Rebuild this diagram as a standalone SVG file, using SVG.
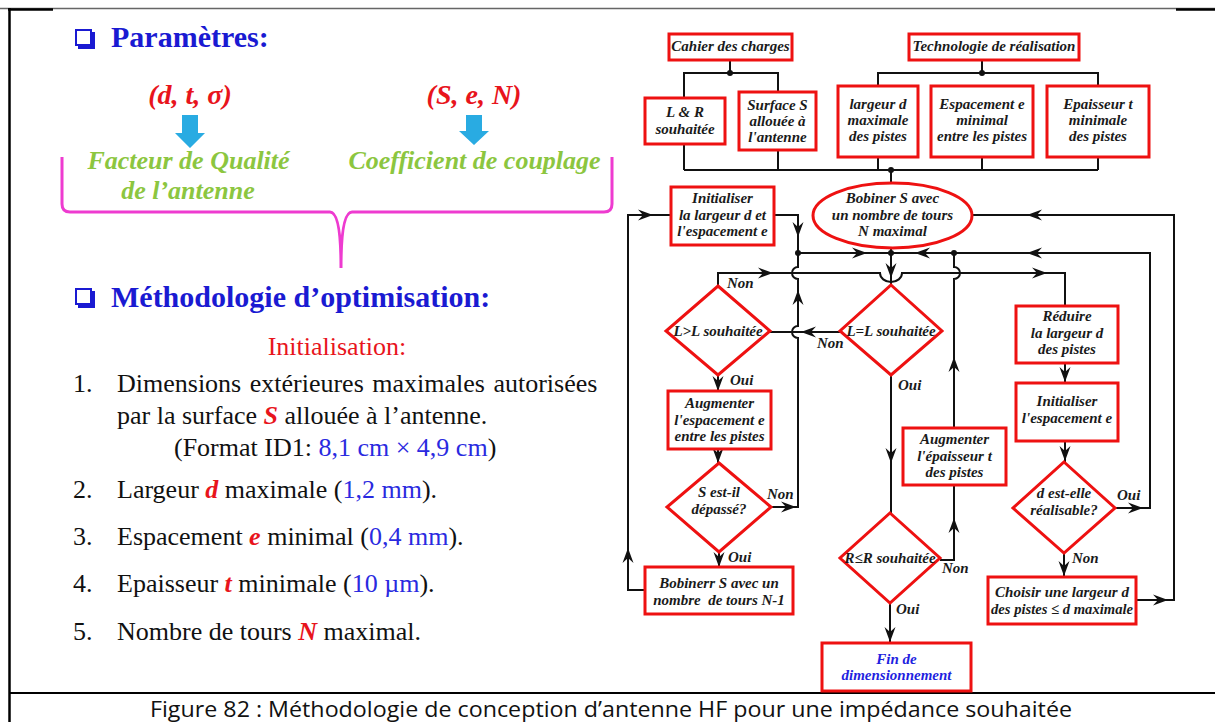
<svg xmlns="http://www.w3.org/2000/svg" width="1215" height="722" viewBox="0 0 1215 722">
<defs>
<style>
.box{fill:#fff;stroke:#ee1111;stroke-width:3}
.t{font-family:"Liberation Serif","Times New Roman",serif;font-weight:bold;font-style:italic;font-size:15px;fill:#1a1a1a;text-anchor:middle}
.lb{font-family:"Liberation Serif","Times New Roman",serif;font-weight:bold;font-style:italic;font-size:15px;fill:#1a1a1a}
.ln{fill:none;stroke:#111;stroke-width:2}
.dot{fill:#111}
.h{font-family:"Liberation Serif","Times New Roman",serif;font-weight:bold;font-size:30px;fill:#1a1ad2}
.p{font-family:"Liberation Serif","Times New Roman",serif;font-size:26px;fill:#111}
.bi{font-weight:bold;font-style:italic;fill:#e8141c}
.bl{fill:#2a2ae0}
.g{font-family:"Liberation Serif","Times New Roman",serif;font-weight:bold;font-style:italic;font-size:26px;fill:#8cc63f;text-anchor:middle}
.r{font-family:"Liberation Serif","Times New Roman",serif;font-weight:bold;font-style:italic;font-size:28px;fill:#e8141c;text-anchor:middle}
.sq{fill:none;stroke:#1a1ad2;stroke-width:2}
.sqs{fill:none;stroke:#1a1ad2;stroke-width:3}
</style>
<path id="ah" d="M0,0 L-15,-5.5 L-10,0 L-15,5.5 Z" fill="#111"/>
</defs>
<rect width="1215" height="722" fill="#fff"/>

<g id="frame">
<line x1="0" y1="8.5" x2="1215" y2="8.5" stroke="#666" stroke-width="1.5"/>
<line x1="8" y1="9.5" x2="53" y2="9.5" stroke="#000" stroke-width="2.5"/>
<line x1="1176" y1="9.5" x2="1215" y2="9.5" stroke="#000" stroke-width="2.5"/>
<line x1="9.5" y1="8" x2="9.5" y2="722" stroke="#000" stroke-width="2.5"/>
<line x1="9" y1="693" x2="1215" y2="693" stroke="#000" stroke-width="2"/>
<text x="150" y="717" font-family="'Open Sans','Noto Sans',sans-serif" font-size="22" fill="#111" textLength="922" lengthAdjust="spacingAndGlyphs">Figure 82 : Méthodologie de conception d’antenne HF pour une impédance souhaitée</text>
</g>

<g id="params">
<rect class="sq" x="76" y="30" width="15" height="15"/>
<polyline class="sqs" points="78,47.5 93.5,47.5 93.5,32"/>
<text class="h" x="111" y="47">Paramètres:</text>
<text class="r" x="190" y="104">(d, t, σ)</text>
<text class="r" x="474" y="104">(S, e, N)</text>
<polygon fill="#29abe2" points="182,115 198,115 198,133 205,133 190,148 175,133 182,133"/>
<polygon fill="#29abe2" points="466,115 482,115 482,131 489,131 474,145 459,131 466,131"/>
<text class="g" x="188.5" y="169">Facteur de Qualité</text>
<text class="g" x="188" y="199">de l’antenne</text>
<text class="g" x="474.5" y="169">Coefficient de couplage</text>
<path d="M62,157 V204 Q62,212 70,212 H330 Q341,212 341,268 Q341,212 352,212 H604 Q612,212 612,204 V157" fill="none" stroke="#ee3bd0" stroke-width="3"/>
</g>

<g id="methodo">
<rect class="sq" x="76" y="289" width="15" height="15"/>
<polyline class="sqs" points="78,306.5 93.5,306.5 93.5,291"/>
<text class="h" x="111" y="307">Méthodologie d’optimisation:</text>
<text class="p" x="337" y="355" style="fill:#e8141c" text-anchor="middle">Initialisation:</text>
<text class="p" x="73" y="392">1.</text>
<text class="p" x="117" y="392" word-spacing="2">Dimensions extérieures maximales autorisées</text>
<text class="p" x="117" y="424">par la surface <tspan class="bi">S</tspan> allouée à l’antenne.</text>
<text class="p" x="174" y="456">(Format ID1: <tspan class="bl">8,1 cm × 4,9 cm</tspan>)</text>
<text class="p" x="73" y="498">2.</text>
<text class="p" x="117" y="498">Largeur <tspan class="bi">d</tspan> maximale (<tspan class="bl">1,2 mm</tspan>).</text>
<text class="p" x="73" y="545">3.</text>
<text class="p" x="117" y="545">Espacement  <tspan class="bi">e</tspan> minimal (<tspan class="bl">0,4 mm</tspan>).</text>
<text class="p" x="73" y="592">4.</text>
<text class="p" x="117" y="592">Epaisseur <tspan class="bi">t</tspan> minimale (<tspan class="bl">10 µm</tspan>).</text>
<text class="p" x="73" y="640">5.</text>
<text class="p" x="117" y="640">Nombre de tours <tspan class="bi">N</tspan> maximal.</text>
</g>

<g id="connectors">
<path class="ln" d="M730,60 V73 M684,98 V73 H778 V92"/>
<path class="ln" d="M982,60 V73 M878,86 V73 H1098 V86"/>
<path class="ln" d="M684,144 V170 M778,150 V170 M878,157 V170 M982,157 V170 M1098,157 V170 M684,170 H1098 M891,170 V183"/>
<path class="ln" d="M645,590 H628 V215 H671"/>
<path class="ln" d="M774,215 H798 V267 a6,6 0 0 0 0,12 V326 a6,6 0 0 0 0,12 V507 H771"/>
<path class="ln" d="M798,253 H954 M954,253 H1150 V508 H1115"/>
<path class="ln" d="M972,215 H1174 V600 H1137"/>
<path class="ln" d="M891,248 V285"/>
<path class="ln" d="M718,286 V273 H880 a11,9 0 0 0 22,0 H1065 V306"/>
<path class="ln" d="M840,332 H770"/>
<path class="ln" d="M891,374 V513"/>
<path class="ln" d="M940,560 H954 V485"/>
<path class="ln" d="M954,253 V267 a6,6 0 0 1 0,12 V428"/>
<path class="ln" d="M718,374 V391 M718,449 V463 M719,552 V567 M1065,363 V383 M1065,441 V462 M1064,553 V577 M890,603 V643"/>
<circle class="dot" cx="730" cy="73" r="3"/>
<circle class="dot" cx="982" cy="73" r="3"/>
<circle class="dot" cx="891" cy="170" r="3"/>
<circle class="dot" cx="798" cy="253" r="3"/>
<circle class="dot" cx="891" cy="253" r="3"/>
<circle class="dot" cx="954" cy="253" r="3"/>
<use href="#ah" transform="translate(653,215)"/>
<use href="#ah" transform="translate(628,548) rotate(-90)"/>
<use href="#ah" transform="translate(798,237) rotate(90)"/>
<use href="#ah" transform="translate(867,253)"/>
<use href="#ah" transform="translate(915,253) rotate(180)"/>
<use href="#ah" transform="translate(1027,253) rotate(180)"/>
<use href="#ah" transform="translate(1027,215) rotate(180)"/>
<use href="#ah" transform="translate(891,278) rotate(90)"/>
<use href="#ah" transform="translate(773,273)"/>
<use href="#ah" transform="translate(1047,273)"/>
<use href="#ah" transform="translate(801,332) rotate(180)"/>
<use href="#ah" transform="translate(798,290) rotate(-90)"/>
<use href="#ah" transform="translate(718,391) rotate(90)"/>
<use href="#ah" transform="translate(718,463) rotate(90)"/>
<use href="#ah" transform="translate(796,507)"/>
<use href="#ah" transform="translate(719,567) rotate(90)"/>
<use href="#ah" transform="translate(891,463) rotate(90)"/>
<use href="#ah" transform="translate(954,357) rotate(-90)"/>
<use href="#ah" transform="translate(954,518) rotate(-90)"/>
<use href="#ah" transform="translate(890,642) rotate(90)"/>
<use href="#ah" transform="translate(1065,382) rotate(90)"/>
<use href="#ah" transform="translate(1065,461) rotate(90)"/>
<use href="#ah" transform="translate(1143,508)"/>
<use href="#ah" transform="translate(1064,576) rotate(90)"/>
<use href="#ah" transform="translate(1168,600)"/>
<text class="lb" x="727" y="288">Non</text>
<text class="lb" x="730" y="385">Oui</text>
<text class="lb" x="817" y="348">Non</text>
<text class="lb" x="898" y="390">Oui</text>
<text class="lb" x="767" y="499">Non</text>
<text class="lb" x="728" y="562">Oui</text>
<text class="lb" x="942" y="573">Non</text>
<text class="lb" x="896" y="614">Oui</text>
<text class="lb" x="1117" y="500">Oui</text>
<text class="lb" x="1072" y="563">Non</text>
</g>

<g id="cahier"><rect class="box" x="669" y="34" width="123" height="26"/><text class="t" x="730.5" y="51">Cahier des charges</text></g>
<g id="techno"><rect class="box" x="909" y="34" width="170" height="26"/><text class="t" x="994" y="51">Technologie de réalisation</text></g>
<g id="lr"><rect class="box" x="645" y="98" width="80" height="46"/><text class="t" x="685" y="117">L &amp; R</text><text class="t" x="685" y="134">souhaitée</text></g>
<g id="surface"><rect class="box" x="739" y="92" width="77" height="58"/><text class="t" x="777.5" y="110">Surface S</text><text class="t" x="777.5" y="126">allouée à</text><text class="t" x="777.5" y="142">l'antenne</text></g>
<g id="largeur"><rect class="box" x="838" y="86" width="80" height="71"/><text class="t" x="878" y="109">largeur d</text><text class="t" x="878" y="125">maximale</text><text class="t" x="878" y="141">des pistes</text></g>
<g id="espacement"><rect class="box" x="931" y="86" width="102" height="71"/><text class="t" x="982" y="109">Espacement e</text><text class="t" x="982" y="125">minimal</text><text class="t" x="982" y="141">entre les pistes</text></g>
<g id="epaisseur"><rect class="box" x="1047" y="86" width="102" height="71"/><text class="t" x="1098" y="109">Epaisseur t</text><text class="t" x="1098" y="125">minimale</text><text class="t" x="1098" y="141">des pistes</text></g>
<g id="bobiner"><ellipse class="box" cx="892.5" cy="215.5" rx="79.5" ry="32.5"/><text class="t" x="892.5" y="203">Bobiner S avec</text><text class="t" x="892.5" y="220">un nombre de tours</text><text class="t" x="892.5" y="236">N maximal</text></g>
<g id="init-de"><rect class="box" x="671" y="187" width="103" height="58"/><text class="t" x="722.5" y="203">Initialiser</text><text class="t" x="722.5" y="220">la largeur d et</text><text class="t" x="722.5" y="236">l'espacement e</text></g>
<g id="l-sup"><polygon class="box" points="718,286 770,331 718,375 666,331"/><text class="t" x="718" y="336">L&gt;L souhaitée</text></g>
<g id="l-eq"><polygon class="box" points="891,285 942,331 891,375 840,331"/><text class="t" x="891" y="336">L=L souhaitée</text></g>
<g id="aug-esp"><rect class="box" x="668" y="391" width="103" height="58"/><text class="t" x="719.5" y="408">Augmenter</text><text class="t" x="719.5" y="425">l'espacement e</text><text class="t" x="719.5" y="441">entre les pistes</text></g>
<g id="s-dep"><polygon class="box" points="719,463 771,507 719,552 667,507"/><text class="t" x="719" y="497">S est-il</text><text class="t" x="719" y="514">dépassé?</text></g>
<g id="bobiner-n1"><rect class="box" x="645" y="567" width="148" height="47"/><text class="t" x="719" y="588" style="white-space:pre">Bobinerr S avec un</text><text class="t" x="719" y="605" style="white-space:pre">nombre  de tours N-1</text></g>
<g id="r-inf"><polygon class="box" points="890,513 940,558 890,603 840,558"/><text class="t" x="890" y="563">R≤R souhaitée</text></g>
<g id="fin"><rect class="box" x="822" y="643" width="149" height="48"/><text class="t" x="896.5" y="664" style="fill:#1f1fe0">Fin de</text><text class="t" x="896.5" y="680" style="fill:#1f1fe0">dimensionnement</text></g>
<g id="aug-ep"><rect class="box" x="903" y="428" width="103" height="57"/><text class="t" x="954.5" y="444">Augmenter</text><text class="t" x="954.5" y="461">l'épaisseur t</text><text class="t" x="954.5" y="477">des pistes</text></g>
<g id="reduire"><rect class="box" x="1016" y="306" width="102" height="57"/><text class="t" x="1067" y="321">Réduire</text><text class="t" x="1067" y="338">la largeur d</text><text class="t" x="1067" y="354">des pistes</text></g>
<g id="init-e"><rect class="box" x="1016" y="383" width="102" height="58"/><text class="t" x="1067" y="406">Initialiser</text><text class="t" x="1067" y="423">l'espacement e</text></g>
<g id="d-real"><polygon class="box" points="1064,462 1115,508 1064,553 1013,508"/><text class="t" x="1064" y="498">d est-elle</text><text class="t" x="1064" y="515">réalisable?</text></g>
<g id="choisir"><rect class="box" x="988" y="577" width="148" height="47"/><text class="t" x="1062" y="597">Choisir une largeur d</text><text class="t" x="1062" y="614" textLength="142" lengthAdjust="spacingAndGlyphs">des pistes ≤ d maximale</text></g>
</svg>
